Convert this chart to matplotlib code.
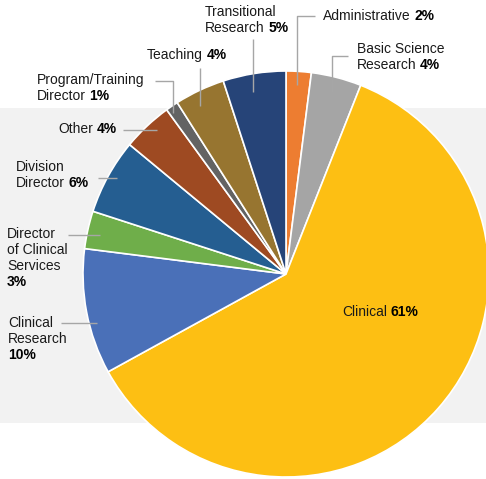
import matplotlib
matplotlib.use("Agg")
import matplotlib.pyplot as plt
from matplotlib.patches import Rectangle

# ---- data ----
categories = ["Administrative", "Basic Science\nResearch", "Clinical", "Clinical\nResearch",
              "Director\nof Clinical\nServices", "Division\nDirector", "Other",
              "Program/Training\nDirector", "Teaching", "Transitional\nResearch"]
values = [2, 4, 61, 10, 3, 6, 4, 1, 4, 5]
colors = ["#ED7D31", "#A5A5A5", "#FDBF13", "#4A70B8", "#6FAE4A", "#255E91",
          "#9E4A22", "#636363", "#977530", "#264478"]

W, H = 486, 479
FONT = ["Liberation Sans", "DejaVu Sans"]
FS = 10
LINE_H = 16

# label layout: (x_left, y_first_line_center (pixels from top), separator before percent, leader polyline in pixels)
layout = {
    "Administrative": (323, 16, " ", [(315, 16), (297, 16), (297, 85)]),
    "Basic Science\nResearch": (357, 49, " ", [(348, 56), (332, 56), (332, 92)]),
    "Clinical\nResearch": (8, 323, "\n", [(61, 323), (97, 323)]),
    "Director\nof Clinical\nServices": (7, 234, "\n", [(68, 235), (100, 235)]),
    "Division\nDirector": (16, 167, " ", [(98, 178), (117, 178)]),
    "Other": (58, 129, " ", [(123, 130), (157, 130)]),
    "Program/Training\nDirector": (37, 80, " ", [(155, 81), (173, 81), (173, 113)]),
    "Teaching": (147, 55, " ", [(200, 68), (200, 106)]),
    "Transitional\nResearch": (205, 12, " ", [(253, 39), (253, 92)]),
}

fig = plt.figure(figsize=(W / 100, H / 100), dpi=100)
ax = fig.add_axes([0, 0, 1, 1])

def py(y):
    return H - y

# gray band
ax.add_patch(Rectangle((0, py(423)), W, 423 - 108, facecolor="#F2F2F2", edgecolor="none", zorder=0))

cx, cy, r = 286, 274, 203
ax.pie(values, colors=colors, startangle=90, counterclock=False, center=(cx, py(cy)), radius=r,
       wedgeprops=dict(edgecolor="white", linewidth=1.2), frame=False)
for w in ax.patches[1:]:
    w.set_zorder(2)

ax.set_xlim(0, W)
ax.set_ylim(0, H)
ax.set_aspect("auto")
ax.axis("off")

renderer = fig.canvas.get_renderer()

def draw_label(x, y, name, pct, sep, center=False):
    pct_s = f"{pct}%"
    full = name + sep + pct_s
    lines = full.split("\n")
    for i, line in enumerate(lines):
        yy = py(y + i * LINE_H)
        if i < len(lines) - 1:
            ax.text(x, yy, line, fontsize=FS, family=FONT, color="#1a1a1a", ha="left", va="center", zorder=5)
        else:
            prefix = line[: -len(pct_s)].rstrip()
            gap = 3.5 if prefix else 0
            if prefix:
                t = ax.text(x, yy, prefix, fontsize=FS, family=FONT, color="#1a1a1a", ha="left", va="center", zorder=5)
                wpre = t.get_window_extent(renderer).width
            else:
                t = None
                wpre = 0
            tp = ax.text(x + wpre + gap, yy, pct_s, fontsize=FS, family=FONT, weight="bold",
                         color="#000000", ha="left", va="center", zorder=5)
            if center:
                wp = tp.get_window_extent(renderer).width
                total = wpre + gap + wp
                shift = total / 2
                if t is not None:
                    t.set_x(x - shift)
                tp.set_x(x - shift + wpre + gap)

for name, val in zip(categories, values):
    if name == "Clinical":
        draw_label(380, 312, name, val, " ", center=True)
        continue
    x, y, sep, leader = layout[name]
    draw_label(x, y, name, val, sep)
    xs = [p[0] for p in leader]
    ys = [py(p[1]) for p in leader]
    ax.plot(xs, ys, color="#A6A6A6", lw=1, zorder=4, solid_capstyle="butt")

fig.savefig("out.png", dpi=100)
